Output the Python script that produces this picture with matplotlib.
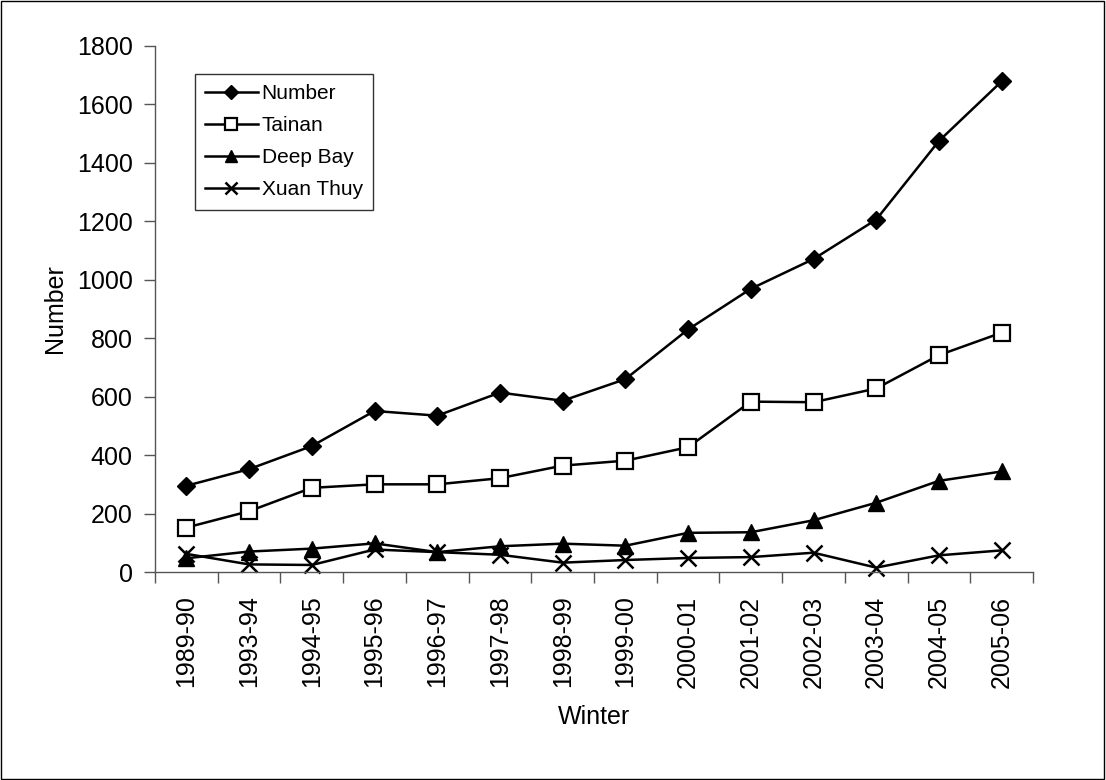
import matplotlib
matplotlib.use("Agg")
import matplotlib.pyplot as plt
from matplotlib.patches import Rectangle
import numpy as np

plt.rcParams['font.family'] = ['Liberation Sans', 'DejaVu Sans']

winters = ["1989-90", "1993-94", "1994-95", "1995-96", "1996-97", "1997-98", "1998-99",
           "1999-00", "2000-01", "2001-02", "2002-03", "2003-04", "2004-05", "2005-06"]
number = [295, 352, 431, 551, 535, 614, 586, 660, 830, 969, 1071, 1206, 1475, 1679]
tainan = [152, 208, 288, 300, 300, 321, 364, 381, 427, 583, 581, 628, 742, 819]
deep_bay = [47, 70, 80, 98, 68, 88, 97, 90, 134, 136, 177, 237, 312, 344]
xuan_thuy = [62, 26, 24, 77, 68, 59, 32, 41, 48, 51, 66, 15, 57, 74]

fig = plt.figure(figsize=(11.06, 7.8), dpi=100)
ax = fig.add_axes([155/1106, 1 - 572/780, (1033-155)/1106, (572-46)/780])
fig.patches.append(Rectangle((0.0005, 0.0008), 0.998, 0.998, transform=fig.transFigure,
                             fill=False, edgecolor='black', linewidth=1.0))

x = np.arange(len(winters))
lw = 1.8
ax.plot(x, number, color='black', lw=lw, marker='D', ms=9.5, mfc='black', mec='black', label='Number', clip_on=False)
ax.plot(x, tainan, color='black', lw=lw, marker='s', ms=11, mfc='white', mec='black', mew=1.6, label='Tainan', clip_on=False)
ax.plot(x, deep_bay, color='black', lw=lw, marker='^', ms=12, mfc='black', mec='black', label='Deep Bay', clip_on=False)
ax.plot(x, xuan_thuy, color='black', lw=lw, marker='x', ms=11, mec='black', mew=1.8, label='Xuan Thuy', clip_on=False)

ax.set_xlim(-0.5, len(winters) - 0.5)
ax.set_ylim(0, 1800)
ax.set_yticks(np.arange(0, 1801, 200))
ax.set_xticks(np.arange(-0.5, len(winters), 1.0))
ax.set_xticklabels([])
ax.set_xticks(x, minor=True)
ax.set_xticklabels(winters, minor=True, rotation=90)
ax.tick_params(axis='x', which='major', direction='out', length=8, width=1, color='#555555')
ax.tick_params(axis='x', which='minor', length=0, pad=17, labelsize=18)
ax.tick_params(axis='y', direction='out', length=8, width=1, labelsize=18, pad=8, color='#555555')

for s in ['top', 'right']:
    ax.spines[s].set_visible(False)
for s in ['left', 'bottom']:
    ax.spines[s].set_color('#555555')
    ax.spines[s].set_linewidth(1.0)

ax.set_xlabel('Winter', fontsize=18)
ax.set_ylabel('Number', fontsize=18)
ax.xaxis.set_label_coords(0.5, -0.253)
ax.yaxis.set_label_coords(-0.100, 0.5)

leg = ax.legend(loc='upper left', bbox_to_anchor=((195-155)/878, 1 - (74-46)/526),
                frameon=True, fancybox=False, edgecolor='black', fontsize=15,
                handlelength=2.5, handletextpad=0.2, borderpad=0.5, labelspacing=0.62,
                borderaxespad=0, markerscale=0.75)
leg.get_frame().set_linewidth(1.0)

fig.savefig('out.png', dpi=100)
